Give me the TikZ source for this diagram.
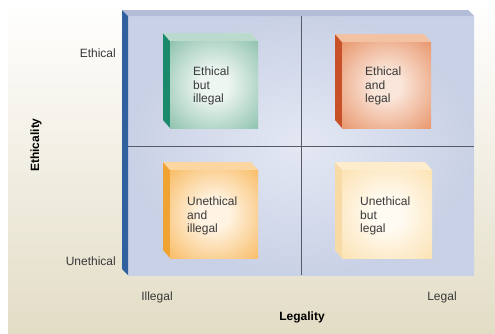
\documentclass[tikz,border=0pt]{standalone}
\usepackage{fontspec}
\setmainfont{Liberation Sans}
\usepackage{tikz}

\definecolor{bgbeige}{HTML}{E3DDC6}
\definecolor{bgmid}{HTML}{F2EFE4}
\definecolor{panelin}{HTML}{E4E8F3}
\definecolor{panelout}{HTML}{C9D1E6}
\definecolor{bandcol}{HTML}{B3BDD8}
\definecolor{barblue}{HTML}{30609E}
\definecolor{gridcol}{HTML}{565B66}
\definecolor{textgray}{HTML}{383838}
% greens
\definecolor{gside}{HTML}{1B8A6C}
\definecolor{gtop}{HTML}{BBDACE}
\definecolor{gout}{HTML}{8EC2AE}
\definecolor{gin}{HTML}{EEF6F2}
% dark orange
\definecolor{oside}{HTML}{C8512A}
\definecolor{otop}{HTML}{F3C2A2}
\definecolor{oout}{HTML}{E8966C}
\definecolor{oin}{HTML}{FAE6DA}
% light orange
\definecolor{lside}{HTML}{F0A232}
\definecolor{ltop}{HTML}{FBD6A0}
\definecolor{lout}{HTML}{F8BC66}
\definecolor{lin}{HTML}{FFF4E4}
% pale yellow
\definecolor{yside}{HTML}{F7DAA6}
\definecolor{ytop}{HTML}{FDEDCC}
\definecolor{yout}{HTML}{FCE2B2}
\definecolor{yin}{HTML}{FFFBF3}

\colorlet{glowin}{white}
\colorlet{glowout}{gray}
\pgfdeclareradialshading[glowin,glowout]{glow}{\pgfpoint{0bp}{0bp}}{color(0bp)=(glowin); color(8bp)=(glowin); color(36bp)=(glowout); color(50bp)=(glowout)}

\tikzset{
  boxtext/.style={anchor=west, align=left, inner sep=0pt, text=textgray,
    font=\fontsize{12}{13.5}\selectfont},
  axistext/.style={inner sep=0pt, text=textgray, font=\fontsize{12}{14}\selectfont},
  axistitle/.style={inner sep=0pt, text=black, font=\bfseries\fontsize{12}{14}\selectfont},
  gridline/.style={draw=gridcol, line width=1pt},
}

\begin{document}
\begin{tikzpicture}[x=1pt,y=-1pt]
  \useasboundingbox (0,0) rectangle (495,333);
  \fill[white] (0,0) rectangle (495,333);
  \shade[top color=white, middle color=bgmid, bottom color=bgbeige] (8,0) rectangle (495,333);

  % panel
  \shade[inner color=panelin, outer color=panelout] (128,16) rectangle (474,275);
  \fill[bandcol] (122,10) -- (468,10) -- (474,16) -- (128,16) -- cycle;
  \fill[barblue] (122,10) -- (128,16) -- (128,275) -- (122,269) -- cycle;

  \coordinate (vtop) at (301,16);
  \coordinate (vbot) at (301,275);
  \coordinate (hleft) at (128,146);
  \coordinate (hright) at (474,146);
  \draw[gridline] (vtop) -- (vbot);
  \draw[gridline] (hleft) -- (hright);

  % ethical but illegal
  \fill[gside] (163,33) -- (170,41) -- (170,128) -- (163,120) -- cycle;
  \fill[gtop] (163,33) -- (251,33) -- (258,41) -- (170,41) -- cycle;
  \colorlet{glowin}{gin}\colorlet{glowout}{gout}
  \shade[shading=glow] (170,41) rectangle (258,128);
  \node[boxtext] (ebi) at (193,86) {Ethical\\but\\illegal};

  % ethical and legal
  \fill[oside] (335,34) -- (342,42) -- (342,128) -- (335,120) -- cycle;
  \fill[otop] (335,34) -- (424,34) -- (431,42) -- (342,42) -- cycle;
  \colorlet{glowin}{oin}\colorlet{glowout}{oout}
  \shade[shading=glow] (342,42) rectangle (431,128);
  \node[boxtext] (eal) at (365,86) {Ethical\\and\\legal};

  % unethical and illegal
  \fill[lside] (163,162) -- (170,170) -- (170,258) -- (163,250) -- cycle;
  \fill[ltop] (163,162) -- (251,162) -- (258,170) -- (170,170) -- cycle;
  \colorlet{glowin}{lin}\colorlet{glowout}{lout}
  \shade[shading=glow] (170,170) rectangle (258,258);
  \node[boxtext] (uai) at (187,216) {Unethical\\and\\illegal};

  % unethical but legal
  \fill[yside] (335,162) -- (342,170) -- (342,258) -- (335,250) -- cycle;
  \fill[ytop] (335,162) -- (425,162) -- (432,170) -- (342,170) -- cycle;
  \colorlet{glowin}{yin}\colorlet{glowout}{yout}
  \shade[shading=glow] (342,170) rectangle (432,258);
  \node[boxtext] (ubl) at (360,216) {Unethical\\but\\legal};

  % axes
  \node[axistext, anchor=east] (eth) at (116,53) {Ethical};
  \node[axistext, anchor=east] (uneth) at (116,261) {Unethical};
  \node[axistext] (ill) at (157,297) {Illegal};
  \node[axistext] (leg) at (442,297) {Legal};
  \node[axistitle] (legality) at (302,317) {Legality};
  \node[axistitle, rotate=90] (ethicality) at (36,145) {Ethicality};
\end{tikzpicture}
\end{document}
